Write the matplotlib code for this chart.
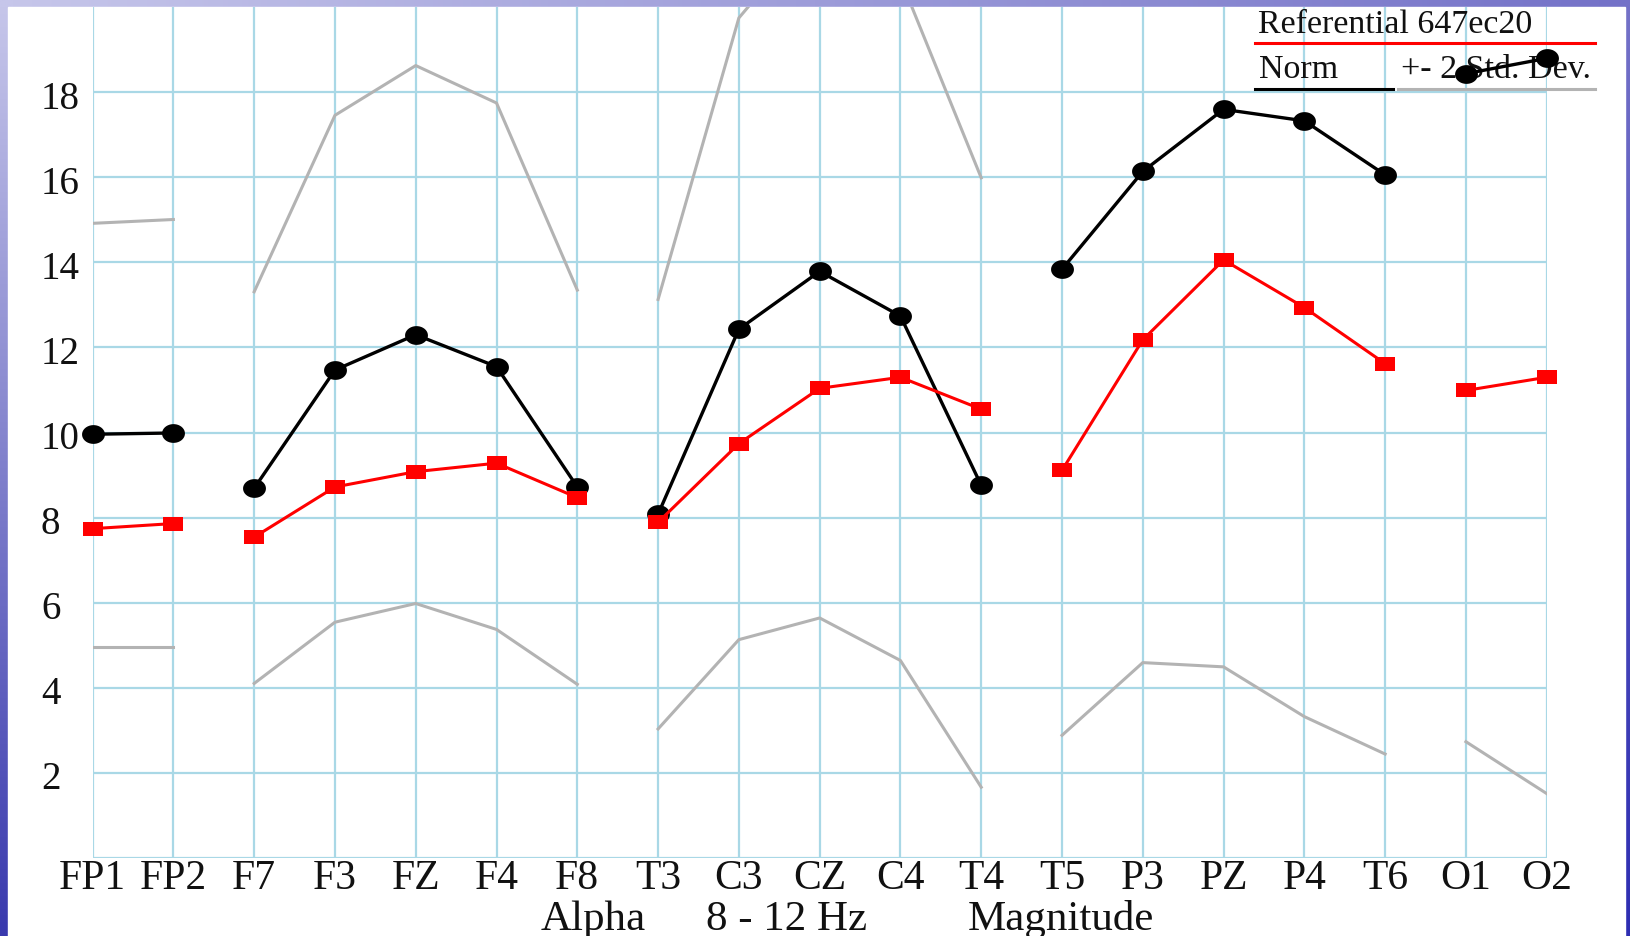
import numpy as np
import matplotlib
matplotlib.use("Agg")
import matplotlib.pyplot as plt
from matplotlib.lines import Line2D
from matplotlib.patches import Rectangle
from matplotlib import transforms
from matplotlib.colors import to_rgb

# ---------------- data ----------------
electrodes = ["FP1", "FP2", "F7", "F3", "FZ", "F4", "F8", "T3", "C3", "CZ",
              "C4", "T4", "T5", "P3", "PZ", "P4", "T6", "O1", "O2"]
patient = [7.74, 7.86, 7.54, 8.72, 9.08, 9.28, 8.47, 7.89, 9.74, 11.04,
           11.30, 10.55, 9.11, 12.18, 14.06, 12.94, 11.62, 10.99, 11.30]
norm = [9.96, 9.99, 8.69, 11.47, 12.30, 11.55, 8.72, 8.08, 12.43, 13.79,
        12.74, 8.76, 13.84, 16.14, 17.60, 17.33, 16.06, 18.44, 18.80]
# upper band: values above 20 are off the chart (unknown where not readable)
upper_sd = [14.92, 15.01, 13.31, 17.46, 18.63, 17.75, 13.35, 13.13, 19.75, 22.0,
            20.67, 15.99, np.nan, np.nan, np.nan, np.nan, np.nan, np.nan, np.nan]
lower_sd = [4.96, 4.96, 4.10, 5.54, 5.98, 5.37, 4.08, 3.03, 5.13, 5.64,
            4.64, 1.66, 2.88, 4.59, 4.49, 3.32, 2.44, 2.73, 1.51]
groups = [(0, 2), (2, 7), (7, 12), (12, 17), (17, 19)]
yticks = [2, 4, 6, 8, 10, 12, 14, 16, 18]
legend_title = "Referential 647ec20"
legend_norm = "Norm"
legend_sd = "+- 2 Std. Dev."
xlabel_parts = ["Alpha", "8 - 12 Hz", "Magnitude"]

# ---------------- figure ----------------
W, H = 1631, 936
DPI = 100
plt.rcParams['font.family'] = ['Liberation Serif', 'DejaVu Serif']
fig = plt.figure(figsize=(W / DPI, H / DPI), dpi=DPI)

def fx(px):
    return px / W

def fy(py):
    return 1 - py / H

# background gradient + white panel
bg = fig.add_axes([0, 0, 1, 1], zorder=-5)
bg.set_axis_off()
n = 64
yy = np.linspace(0, 1, n)[:, None, None]
xx = np.linspace(0, 1, n)[None, :, None]
L_top, L_bot = np.array(to_rgb("#c6c6ea")), np.array(to_rgb("#3a3aae"))
R_top, R_bot = np.array(to_rgb("#7472c8")), np.array(to_rgb("#2e2eb2"))
left = L_top * (1 - yy) + L_bot * yy
right = R_top * (1 - yy) + R_bot * yy
img = left * (1 - xx) + right * xx
bg.imshow(img, aspect="auto", extent=[0, 1, 0, 1], origin="upper", interpolation="bilinear")
bg.add_patch(Rectangle((fx(8), 0), fx(1625) - fx(8), fy(6.5), color="white", zorder=2))
bg.set_xlim(0, 1)
bg.set_ylim(0, 1)

x = np.arange(len(electrodes))
ax = fig.add_axes([fx(92.6), fy(857.8), fx(1546.7) - fx(92.6), fy(7.3) - fy(857.8)])
ax.set_facecolor("none")
ax.set_xlim(0, len(electrodes) - 1)
ax.set_ylim(0, 20)
for s in ax.spines.values():
    s.set_visible(False)

grid_c = "#a9d8e6"
ax.vlines(x, 0, 20, color=grid_c, lw=1.6, zorder=0.5)
ax.hlines([0] + yticks, 0, len(electrodes) - 1, color=grid_c, lw=1.6, zorder=0.5)

rect_marker = [(-1, -0.68), (1, -0.68), (1, 0.68), (-1, 0.68), (-1, -0.68)]
t = np.linspace(0, 2 * np.pi, 40)
ell_marker = list(zip(np.cos(t), 0.82 * np.sin(t)))

up = np.array(upper_sd, dtype=float)
lo = np.array(lower_sd, dtype=float)
pa = np.array(patient)
no = np.array(norm)
gray = "#b3b3b3"
for a, b in groups:
    xs = x[a:b]
    ax.plot(xs, up[a:b], color=gray, lw=2.2, zorder=2, solid_joinstyle="round")
    ax.plot(xs, lo[a:b], color=gray, lw=2.2, zorder=2, solid_joinstyle="round")
    ax.plot(xs, no[a:b], color="black", lw=2.4, marker=ell_marker, ms=16.5,
            mew=0, zorder=3, clip_on=False)
    ax.plot(xs, pa[a:b], color="#ff0000", lw=2.2, marker=rect_marker, ms=14.5,
            mew=0, zorder=4, clip_on=False)

txt_c = "#111111"
# x tick labels
ax.set_xticks(x)
ax.set_xticklabels(electrodes, fontsize=30)
ax.tick_params(axis="x", length=0, pad=1, colors=txt_c)
ax.set_yticks([])

# y tick labels (left aligned, like the original)
ytr = transforms.blended_transform_factory(fig.transFigure, ax.transData) + \
    transforms.ScaledTranslation(0, -7 / DPI, fig.dpi_scale_trans)
for v in yticks:
    ax.text(fx(41), v, str(v), transform=ytr, ha="left", va="center",
            fontsize=28, color=txt_c, zorder=1, clip_on=False)

# axis caption
for txt, px in zip(xlabel_parts, [541, 706, 968]):
    fig.text(fx(px), fy(930), txt, ha="left", va="baseline", fontsize=31, color=txt_c)

# legend (drawn beneath the data markers)
ax.text(fx(1258), fy(32.7), legend_title, transform=fig.transFigure, ha="left",
        va="baseline", fontsize=24.5, color=txt_c, zorder=1)
ax.text(fx(1259), fy(78.3), legend_norm, transform=fig.transFigure, ha="left",
        va="baseline", fontsize=24.5, color=txt_c, zorder=1)
ax.text(fx(1401), fy(78.3), legend_sd, transform=fig.transFigure, ha="left",
        va="baseline", fontsize=24.5, color=txt_c, zorder=1)
ax.add_artist(Line2D([fx(1255), fx(1595)], [fy(43.3), fy(43.3)], color="#ff0000",
                     lw=2.2, transform=fig.transFigure, clip_on=False, zorder=1))
ax.add_artist(Line2D([fx(1255), fx(1392.7)], [fy(89.3), fy(89.3)], color="black",
                     lw=2.2, transform=fig.transFigure, clip_on=False, zorder=1))
ax.add_artist(Line2D([fx(1398), fx(1595)], [fy(89.3), fy(89.3)], color=gray,
                     lw=2.2, transform=fig.transFigure, clip_on=False, zorder=1))

fig.savefig("out.png", dpi=DPI)
